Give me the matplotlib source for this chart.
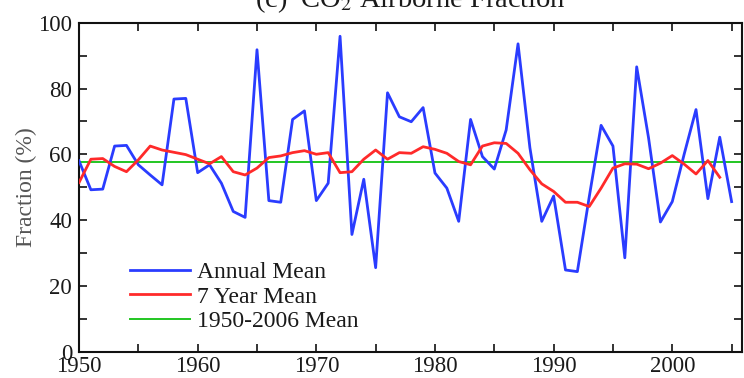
import matplotlib
matplotlib.use("Agg")
import matplotlib.pyplot as plt
from matplotlib.ticker import MultipleLocator

# Annual airborne fraction of CO2 emissions (%), 1950-2005
years = list(range(1950, 2006))
annual_mean = [
    58.0, 49.2, 49.4, 62.5, 62.7, 56.8, 53.7, 50.7, 76.8, 77.0,
    54.4, 56.8, 51.2, 42.6, 40.8, 91.8, 45.9, 45.4, 70.6, 73.2,
    45.9, 51.2, 95.9, 35.6, 52.4, 25.5, 78.7, 71.4, 69.9, 74.2,
    54.3, 49.7, 39.6, 70.6, 59.3, 55.5, 67.4, 93.6, 62.0, 39.6,
    47.3, 24.8, 24.3, 47.0, 68.8, 62.5, 28.5, 86.6, 65.0, 39.4,
    45.6, 60.0, 73.6, 46.5, 65.2, 45.6,
]

# 7-year running mean, 1950-2004
years_7yr = list(range(1950, 2005))
seven_year_mean = [
    51.4, 58.5, 58.7, 56.3, 54.7, 58.3, 62.5, 61.3, 60.6, 59.9,
    58.5, 57.1, 59.3, 54.7, 53.7, 55.8, 59.0, 59.5, 60.5, 61.1,
    60.0, 60.5, 54.4, 54.7, 58.5, 61.3, 58.5, 60.5, 60.3, 62.3,
    61.5, 60.3, 57.8, 56.8, 62.5, 63.5, 63.3, 60.3, 55.3, 51.0,
    48.7, 45.4, 45.4, 44.1, 49.7, 55.8, 57.1, 57.0, 55.6, 57.3,
    59.6, 57.0, 54.0, 58.1, 53.0,
]

period_mean = 57.5

series_labels = ["Annual Mean", "7 Year Mean", "1950-2006 Mean"]
title_text = "(c)  CO$_2$ Airborne Fraction"
ylabel_text = "Fraction (%)"

plt.rcParams["font.family"] = ["Liberation Serif", "DejaVu Serif"]
plt.rcParams["mathtext.fontset"] = "stix"

fig = plt.figure(figsize=(7.44, 3.78), dpi=100)
ax = fig.add_axes([0.1062, 0.0701, 0.8907, 0.8696])

ax.plot(years, annual_mean, color="#2a3cff", lw=2.0, label=series_labels[0], zorder=3)
ax.plot(years_7yr, seven_year_mean, color="#ff2a2a", lw=2.0, label=series_labels[1], zorder=4)
ax.axhline(period_mean, color="#22c622", lw=1.4, label=series_labels[2], zorder=2)

ax.set_xlim(1950, 2005.85)
ax.set_ylim(0, 100)
ax.xaxis.set_major_locator(MultipleLocator(10))
ax.xaxis.set_minor_locator(MultipleLocator(5))
ax.yaxis.set_major_locator(MultipleLocator(20))
ax.yaxis.set_minor_locator(MultipleLocator(10))

ax.tick_params(which="both", direction="in", top=True, right=True,
               length=6, width=1.2, colors="#111111")
ax.tick_params(axis="both", which="major", labelsize=16.5,
               labelcolor="#1a1a1a")
ax.tick_params(axis="x", which="major", pad=3)
ax.tick_params(axis="y", which="major", pad=5)
for sp in ax.spines.values():
    sp.set_linewidth(1.5)
    sp.set_color("#111111")

ax.set_ylabel(ylabel_text, fontsize=17, color="#555555")
ax.yaxis.set_label_coords(-0.064, 0.5)

ax.set_title(title_text, fontsize=20.5, pad=11, color="#1a1a1a")

leg = ax.legend(loc="upper left", bbox_to_anchor=(0.077, 0.274),
                frameon=False, fontsize=17, handlelength=2.55,
                handletextpad=0.3, labelspacing=0.13, borderpad=0,
                borderaxespad=0)
for t in leg.get_texts():
    t.set_color("#1a1a1a")

fig.savefig("out.png", dpi=100)
